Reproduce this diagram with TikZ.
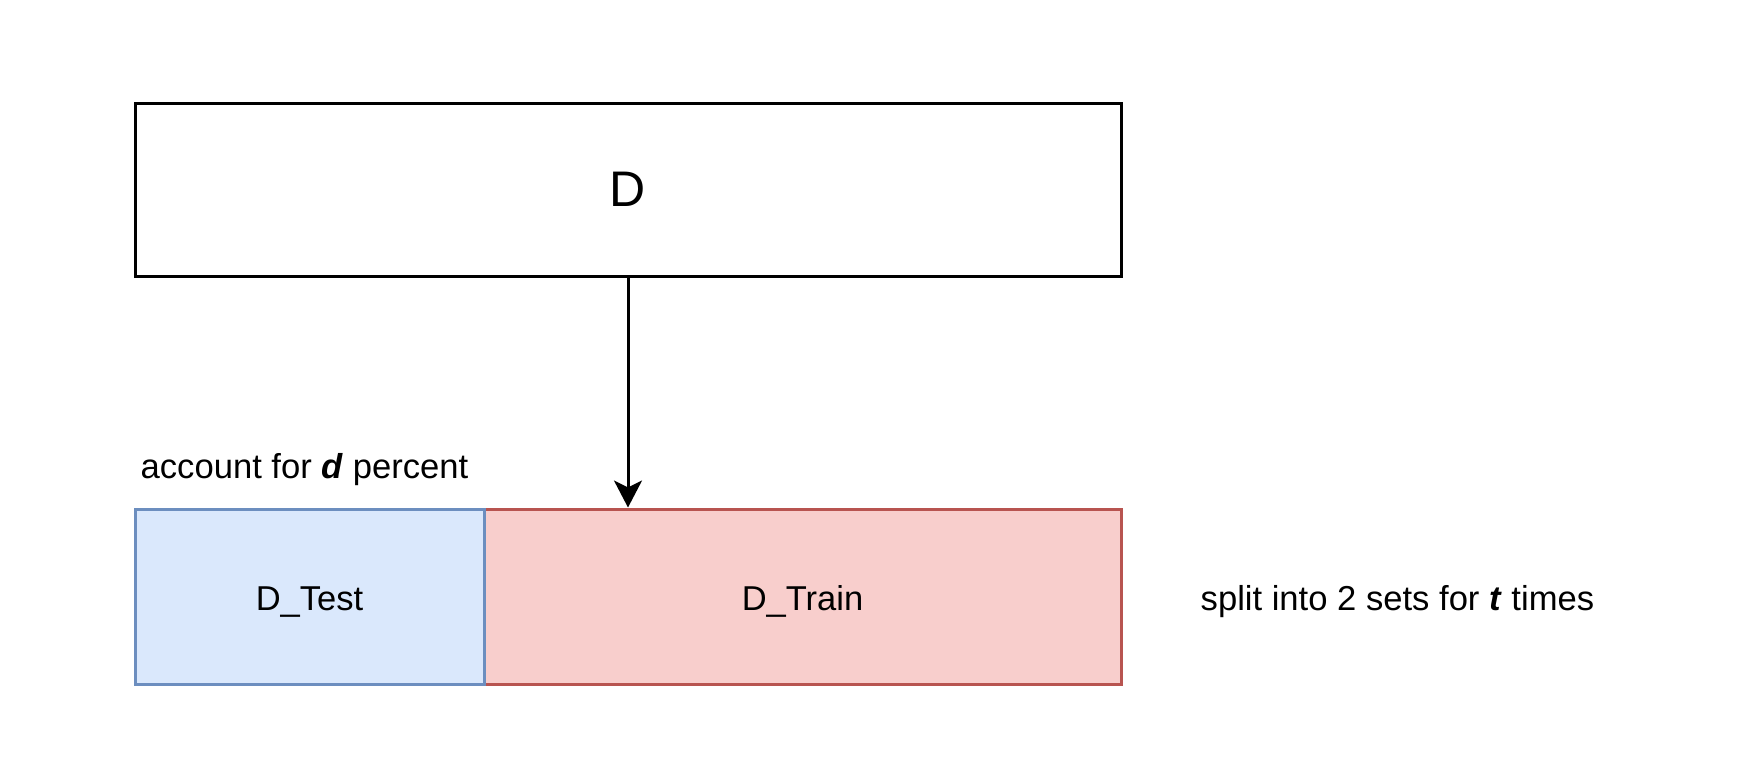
\documentclass[tikz,border=0pt]{standalone}
\usepackage{fontspec}
\setmainfont{Liberation Sans}
\usetikzlibrary{arrows.meta}
\definecolor{blueFill}{HTML}{DAE8FC}
\definecolor{blueLine}{HTML}{6C8EBF}
\definecolor{redFill}{HTML}{F8CECC}
\definecolor{redLine}{HTML}{B85450}
\begin{document}
\begin{tikzpicture}[x=1pt,y=-1pt,
  box/.style={draw, rectangle, line width=3pt, inner sep=0pt},
  label/.style={inner sep=0pt, font=\fontsize{34.6}{42}\selectfont},
  conn/.style={line width=3pt, -{Stealth[length=27pt, width=28pt, inset=7pt]}}]
\useasboundingbox (0,0) rectangle (1762,784);
\fill[white] (0,0) rectangle (1762,784);
\node[box, minimum width=986pt, minimum height=173pt, text height=33pt, text depth=0pt, font=\fontsize{50}{60}\selectfont] (D) at (628,189.5) {D};
\node[box, draw=redLine, fill=redFill, minimum width=637pt, minimum height=175pt, text height=27pt, text depth=0pt, font=\fontsize{34.5}{40}\selectfont] (train) at (802.5,596.5) {D\_Train};
\node[box, draw=blueLine, fill=blueFill, minimum width=349pt, minimum height=175pt, text height=27pt, text depth=0pt, font=\fontsize{34.5}{40}\selectfont] (test) at (309.5,596.5) {D\_Test};
\draw[conn] (D.south) -- (D.south |- train.north);
\node[label, anchor=base west] (acc) at (140.5,478) {account for \textbf{\textit{d}} percent};
\node[label, anchor=base west] (split) at (1200.5,610) {split into 2 sets for \textbf{\textit{t}} times};
\end{tikzpicture}
\end{document}
